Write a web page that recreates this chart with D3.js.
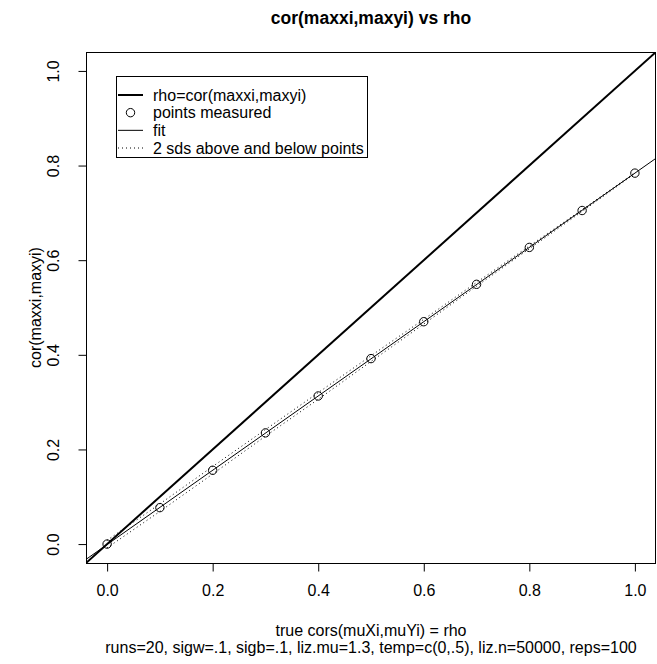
<!DOCTYPE html>
<html>
<head>
<meta charset="utf-8">
<script src="https://cdn.jsdelivr.net/npm/d3@7"></script>
<style>
    body { margin: 0; background: #fff; }
    svg { display: block; font-family: "Liberation Sans", Arial, Helvetica, sans-serif; }
</style>
</head>
<body>
<div id="chart"></div>
<script>
// values
const rhoValues = [0.0, 0.1, 0.2, 0.3, 0.4, 0.5, 0.6, 0.7, 0.8, 0.9, 1.0];
const measuredCor = [0.000, 0.077, 0.156, 0.235, 0.313, 0.392, 0.470, 0.549, 0.627, 0.705, 0.784];
const twoSds = [0.008, 0.008, 0.008, 0.007, 0.007, 0.006, 0.005, 0.004, 0.003, 0.002, 0.001];
const fitCoef = [-0.001, 0.785];   // intercept, slope
const xTicks = [0.0, 0.2, 0.4, 0.6, 0.8, 1.0];
const yTicks = [0.0, 0.2, 0.4, 0.6, 0.8, 1.0];
const legendLabels = ["rho=cor(maxxi,maxyi)", "points measured", "fit", "2 sds above and below points"];

const W = 657, H = 664;
const box = { left: 86, right: 656, top: 52, bottom: 563 };
const fontSize = 16;

const svg = d3.select("#chart")
    .append("svg")
    .attr("width", W)
    .attr("height", H);

const x = d3.scaleLinear().domain([-0.04, 1.04]).range([box.left, box.right]);
const y = d3.scaleLinear().domain([-0.04, 1.04]).range([box.bottom, box.top]);

svg.append("clipPath")
    .attr("id", "plotclip")
    .append("rect")
    .attr("x", box.left)
    .attr("y", box.top)
    .attr("width", box.right - box.left)
    .attr("height", box.bottom - box.top);

const plot = svg.append("g").attr("clip-path", "url(#plotclip)");

// rho = cor line (y = x)
plot.append("line")
    .attr("x1", x(-0.04)).attr("y1", y(-0.04))
    .attr("x2", x(1.04)).attr("y2", y(1.04))
    .attr("stroke", "#000")
    .attr("stroke-width", 2);

// fit line
plot.append("line")
    .attr("x1", x(-0.04)).attr("y1", y(fitCoef[0] + fitCoef[1] * -0.04))
    .attr("x2", x(1.04)).attr("y2", y(fitCoef[0] + fitCoef[1] * 1.04))
    .attr("stroke", "#000")
    .attr("stroke-width", 1);

// 2 sd lines
[1, -1].forEach(sign => {
    plot.append("path")
        .datum(rhoValues.map((r, i) => [r, measuredCor[i] + sign * twoSds[i]]))
        .attr("d", d3.line().x(d => x(d[0])).y(d => y(d[1])))
        .attr("fill", "none")
        .attr("stroke", "#000")
        .attr("stroke-width", 1)
        .attr("stroke-dasharray", "1,3");
});

// points
plot.selectAll(".pt")
    .data(rhoValues)
    .enter()
    .append("circle")
    .attr("class", "pt")
    .attr("cx", d => x(d))
    .attr("cy", (d, i) => y(measuredCor[i]))
    .attr("r", 4.2)
    .attr("fill", "none")
    .attr("stroke", "#000")
    .attr("stroke-width", 1);

// box
svg.append("rect")
    .attr("x", box.left + 0.5)
    .attr("y", box.top + 0.5)
    .attr("width", box.right - box.left - 1)
    .attr("height", box.bottom - box.top)
    .attr("fill", "none")
    .attr("stroke", "#000");

// axes
const xAxis = svg.append("g")
    .attr("transform", `translate(0,${box.bottom + 0.5})`)
    .call(d3.axisBottom(x).tickValues(xTicks).tickFormat(d3.format(".1f")).tickSize(8).tickPadding(13));
xAxis.select(".domain").remove();
xAxis.selectAll("text").style("font-size", fontSize + "px").attr("fill", "#000");

const yAxis = svg.append("g")
    .attr("transform", `translate(${box.left + 0.5},0)`)
    .call(d3.axisLeft(y).tickValues(yTicks).tickFormat(d3.format(".1f")).tickSize(8));
yAxis.select(".domain").remove();
yAxis.selectAll("text")
    .style("font-size", fontSize + "px")
    .attr("fill", "#000")
    .attr("x", null).attr("dy", null)
    .attr("text-anchor", "middle")
    .attr("transform", "translate(-28,0) rotate(-90)");

// titles
svg.append("text")
    .attr("x", (box.left + box.right) / 2)
    .attr("y", 24)
    .attr("text-anchor", "middle")
    .style("font-size", "17.5px")
    .style("font-weight", "bold")
    .text("cor(maxxi,maxyi) vs rho");

svg.append("text")
    .attr("x", (box.left + box.right) / 2)
    .attr("y", 636)
    .attr("text-anchor", "middle")
    .style("font-size", fontSize + "px")
    .text("true cors(muXi,muYi) = rho");

svg.append("text")
    .attr("x", (box.left + box.right) / 2)
    .attr("y", 653)
    .attr("text-anchor", "middle")
    .style("font-size", fontSize + "px")
    .text("runs=20, sigw=.1, sigb=.1, liz.mu=1.3, temp=c(0,.5), liz.n=50000, reps=100");

svg.append("text")
    .attr("transform", `translate(41,${(box.top + box.bottom) / 2}) rotate(-90)`)
    .attr("text-anchor", "middle")
    .style("font-size", fontSize + "px")
    .text("cor(maxxi,maxyi)");

// legend
const legend = svg.append("g");
legend.append("rect")
    .attr("x", 116.5).attr("y", 76.5)
    .attr("width", 251).attr("height", 81)
    .attr("fill", "#fff")
    .attr("stroke", "#000");

const rowY = d3.scalePoint().domain(legendLabels).range([95, 148]);

legendLabels.forEach((label, i) => {
    const cy = rowY(label);
    if (i === 1) {
        legend.append("circle")
            .attr("cx", 130.5).attr("cy", cy).attr("r", 4.2)
            .attr("fill", "none").attr("stroke", "#000");
    } else {
        legend.append("line")
            .attr("x1", 118).attr("x2", 143)
            .attr("y1", cy).attr("y2", cy)
            .attr("stroke", "#000")
            .attr("stroke-width", i === 0 ? 2 : 1)
            .attr("stroke-dasharray", i === 3 ? "1,3" : null);
    }
    legend.append("text")
        .attr("x", 153)
        .attr("y", cy)
        .attr("dy", "0.35em")
        .style("font-size", fontSize + "px")
        .text(label);
});
</script>
</body>
</html>
